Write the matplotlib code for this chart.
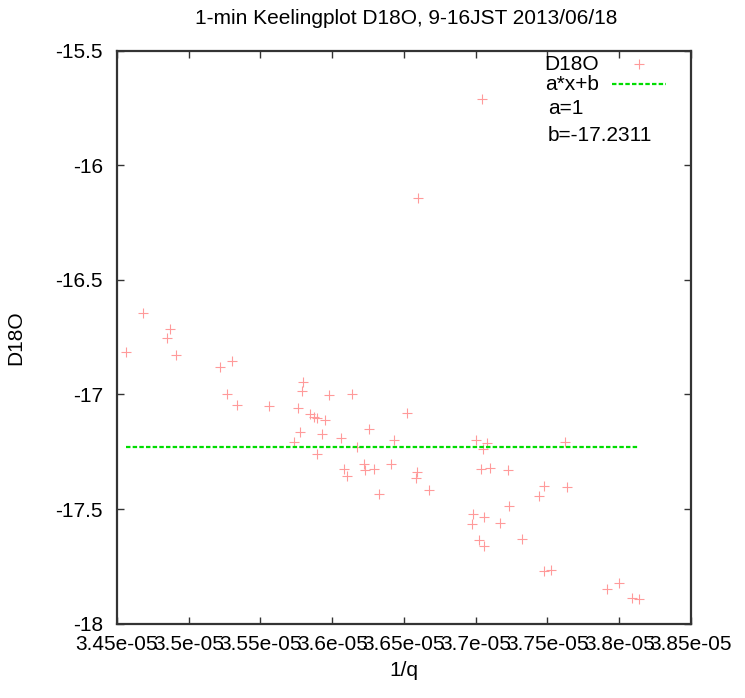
import numpy as np
from matplotlib import pyplot as plt

plt.rcParams['font.family'] = ['Liberation Sans', 'DejaVu Sans']

# 1/q in units of 1e-5
invq = [3.4563, 3.4683, 3.4851, 3.4869, 3.4913, 3.5216, 3.5267, 3.5299,
        3.5338, 3.5557, 3.5731, 3.5763, 3.5773, 3.5789, 3.5798, 3.5847,
        3.5873, 3.5891, 3.5891, 3.5931, 3.5952, 3.5979, 3.6062, 3.6084,
        3.6105, 3.6140, 3.6170, 3.6221, 3.6228, 3.6258, 3.6290, 3.6327,
        3.6411, 3.6433, 3.6519, 3.6585, 3.6592, 3.6597, 3.6674, 3.6976,
        3.6983, 3.6999, 3.7023, 3.7037, 3.7044, 3.7053, 3.7055, 3.7059,
        3.7076, 3.7100, 3.7171, 3.7223, 3.7234, 3.7319, 3.7439, 3.7478,
        3.7478, 3.7527, 3.7621, 3.7638, 3.7914, 3.7999, 3.8086, 3.8137]
d18o = [-16.816, -16.645, -16.755, -16.715, -16.828, -16.881, -16.996, -16.855,
        -17.045, -17.052, -17.209, -17.060, -17.162, -16.985, -16.945, -17.086,
        -17.097, -17.101, -17.261, -17.171, -17.113, -17.003, -17.189, -17.325,
        -17.356, -17.000, -17.231, -17.305, -17.328, -17.152, -17.325, -17.433,
        -17.303, -17.199, -17.082, -17.366, -17.340, -16.142, -17.418, -17.567,
        -17.522, -17.199, -17.635, -17.327, -15.710, -17.239, -17.662, -17.535,
        -17.210, -17.320, -17.560, -17.331, -17.488, -17.632, -17.442, -17.398,
        -17.771, -17.766, -17.207, -17.403, -17.851, -17.824, -17.889, -17.893]

a = 1
b = -17.2311

xticks = [3.45, 3.5, 3.55, 3.6, 3.65, 3.7, 3.75, 3.8, 3.85]
xticklabels = ['3.45e-05', '3.5e-05', '3.55e-05', '3.6e-05', '3.65e-05',
               '3.7e-05', '3.75e-05', '3.8e-05', '3.85e-05']
yticks = [-18, -17.5, -17, -16.5, -16, -15.5]
yticklabels = ['-18', '-17.5', '-17', '-16.5', '-16', '-15.5']

x = np.array(invq)
y = np.array(d18o)

fig = plt.figure(figsize=(7.45, 6.98), dpi=100)
ax = fig.add_axes([0.157, 0.1067, 0.7705, 0.8203])

pink = '#ff9a9a'
green = '#00dd00'
ms = 7

ax.plot(x, y, linestyle='none', marker='+', markersize=ms, mew=0.8, color=pink)
xl = np.array([x.min(), x.max()])
ax.plot(xl, np.full(2, b), color=green, lw=1.6, dashes=(2, 1))

ax.set_xlim(3.45, 3.85)
ax.set_ylim(-18, -15.5)
ax.set_xticks(xticks)
ax.set_xticklabels(xticklabels)
ax.set_yticks(yticks)
ax.set_yticklabels(yticklabels)

fs = 15
ax.tick_params(direction='in', top=True, right=True, length=5, width=1,
               color='#333333', labelsize=fs)
ax.tick_params(axis='x', pad=8)
ax.tick_params(axis='y', pad=10)
for s in ax.spines.values():
    s.set_linewidth(1.6)
    s.set_color('#333333')

ax.set_xlabel('1/q', fontsize=fs, labelpad=5)
ax.set_ylabel('D18O', fontsize=fs)
ax.yaxis.set_label_coords(-0.160, 0.5)

fig.text(0.545, 0.974, '1-min Keelingplot D18O, 9-16JST 2013/06/18',
         ha='center', va='center', fontsize=fs)

# key, gnuplot style
ax.text(0.839, 0.977, 'D18O', transform=ax.transAxes, ha='right', va='center', fontsize=fs)
ax.plot([0.909], [0.977], transform=ax.transAxes, marker='+', markersize=ms, mew=0.8,
        color=pink, linestyle='none', clip_on=False)
ax.text(0.839, 0.941, 'a*x+b', transform=ax.transAxes, ha='right', va='center', fontsize=fs)
ax.plot([0.862, 0.956], [0.942, 0.942], transform=ax.transAxes, color=green,
        lw=1.6, dashes=(2, 1), clip_on=False)
ax.text(0.751, 0.899, 'a=%g' % a, transform=ax.transAxes, ha='left', va='center', fontsize=fs)
ax.text(0.751, 0.853, 'b=%g' % b, transform=ax.transAxes, ha='left', va='center', fontsize=fs)

plt.savefig('out.png', dpi=100)
